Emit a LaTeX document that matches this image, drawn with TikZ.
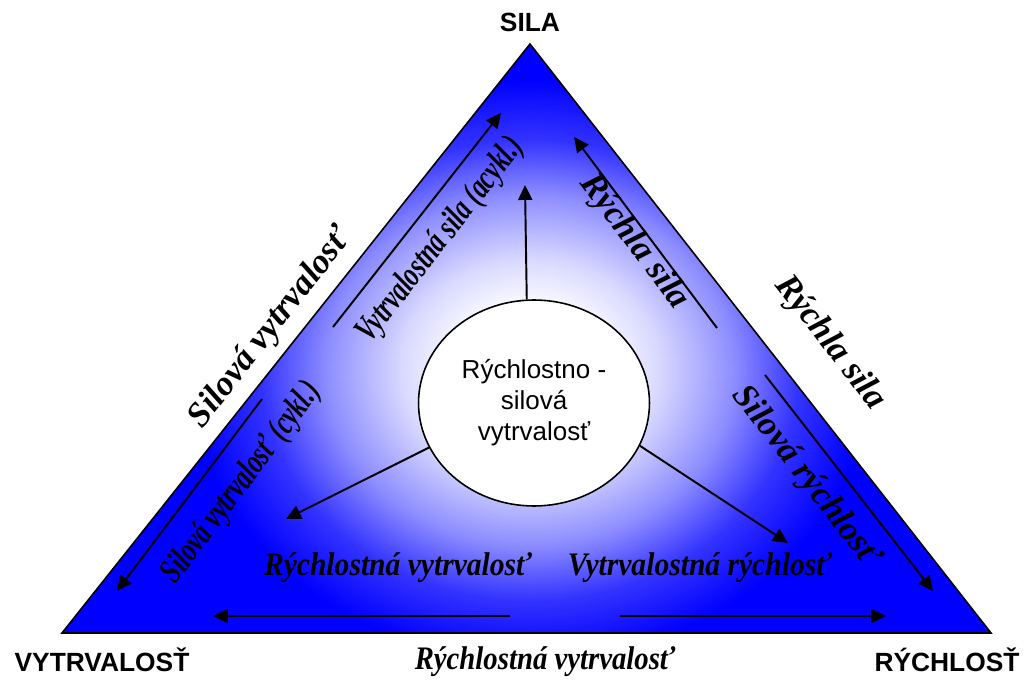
\documentclass[tikz,border=0pt]{standalone}
\usepackage{fontspec}
\setmainfont{Liberation Serif}
\setsansfont{Liberation Sans}
\usetikzlibrary{arrows.meta,shapes.geometric}

% soft white-to-blue glow used inside the triangle (25bp = shading radius)
\pgfdeclareradialshading{glow}{\pgfpoint{0bp}{0bp}}{%
  color(0bp)=(white);
  color(2.5bp)=(white);
  color(4.6bp)=(blue!15!white);
  color(7.3bp)=(blue!45!white);
  color(9.6bp)=(blue!80!white);
  color(12.1bp)=(blue);
  color(25bp)=(blue);
  color(50bp)=(blue)}

% narrowed text
\newcommand{\narrow}[2]{\scalebox{#1}[1]{#2}}

\tikzset{
  corner/.style={font=\sffamily\bfseries\fontsize{15}{17}\selectfont, inner sep=0pt},
  lab/.style={font=\bfseries\itshape\fontsize{18.7}{21}\selectfont, inner sep=0pt},
  talllab/.style={font=\bfseries\itshape\fontsize{20}{22}\selectfont, inner sep=0pt},
  biglab/.style={font=\bfseries\itshape\fontsize{19.8}{22}\selectfont, inner sep=0pt},
  core/.style={ellipse, draw=black, line width=0.9pt, fill=white,
    minimum width=4.62cm, minimum height=4.12cm, inner sep=0pt, align=center,
    font=\sffamily\fontsize{14.8}{17.6}\selectfont},
  arr/.style={line width=1.1pt, -{Triangle[length=8.5pt,width=8pt]}},
  edge/.style={draw=black, line width=0.9pt}
}

\begin{document}
\begin{tikzpicture}[x=0.02cm, y=-0.02cm]
\useasboundingbox (0,0) rectangle (1028,682);

% corners of the triangle
\coordinate (A) at (530,44);
\coordinate (B) at (62,633);
\coordinate (C) at (991,633);

% triangle body: solid blue with a light glow in the middle
\fill[blue] (A) -- (B) -- (C) -- cycle;
\begin{scope}
  \clip (A) -- (B) -- (C) -- cycle;
  \shade[shading=glow] (530,370) ellipse (14cm and 12cm);
\end{scope}
\draw[edge, line join=miter] (A) -- (B) -- (C) -- cycle;

% corner titles
\node[corner] (sila) at (530,22) {SILA};
\node[corner] (vytr) at (102,660) {VYTRVALOSŤ};
\node[corner] (rych) at (947,660) {RÝCHLOSŤ};

% labels outside the sides
\node[biglab] (outL) at (271,328) [rotate=52] {Silová vytrvalosť};
\node[biglab] (outR) at (830,343) [rotate=-52] {Rýchla sila};
\node[lab] (outB) at (545,662) {\narrow{0.875}{Rýchlostná vytrvalosť}};

% labels inside the triangle
\node[talllab] (inLU) at (441,240) [rotate=52] {\narrow{0.7}{Vytrvalostná sila (acykl.)}};
\node[biglab] (inRU) at (634,242) [rotate=-53] {Rýchla sila};
\node[talllab] (inLD) at (242,483) [rotate=53] {\narrow{0.7}{Silová vytrvalosť (cykl.)}};
\node[biglab] (inRD) at (806,477) [rotate=-52] {Silová rýchlosť};
\node[lab] (inBL) at (398,568) {\narrow{0.9}{Rýchlostná vytrvalosť}};
\node[lab] (inBR) at (700,568) {\narrow{0.9}{Vytrvalostná rýchlosť}};

% central ellipse
\node[core] (core) at (534,403) {Rýchlostno -\\silová\\vytrvalosť};

% arrow end points
\coordinate (upT) at (525,185);
\coordinate (llT) at (286,519);
\coordinate (lrT) at (788,543);
\coordinate (s1a) at (333,327);  \coordinate (s1b) at (501,113);
\coordinate (s2a) at (717,328);  \coordinate (s2b) at (574,137);
\coordinate (s3a) at (262,399);  \coordinate (s3b) at (117,591);
\coordinate (s4a) at (765,375);  \coordinate (s4b) at (933,591);
\coordinate (b1a) at (510,616);  \coordinate (b1b) at (213,616);
\coordinate (b2a) at (620,616);  \coordinate (b2b) at (886,616);

% arrows leaving the ellipse
\draw[arr] (core.94) -- (upT);
\draw[arr] (core.203) -- (llT);
\draw[arr] (core.338) -- (lrT);

% arrows along the sides
\draw[arr] (s1a) -- (s1b);
\draw[arr] (s2a) -- (s2b);
\draw[arr] (s3a) -- (s3b);
\draw[arr] (s4a) -- (s4b);
\draw[arr] (b1a) -- (b1b);
\draw[arr] (b2a) -- (b2b);
\end{tikzpicture}
\end{document}
